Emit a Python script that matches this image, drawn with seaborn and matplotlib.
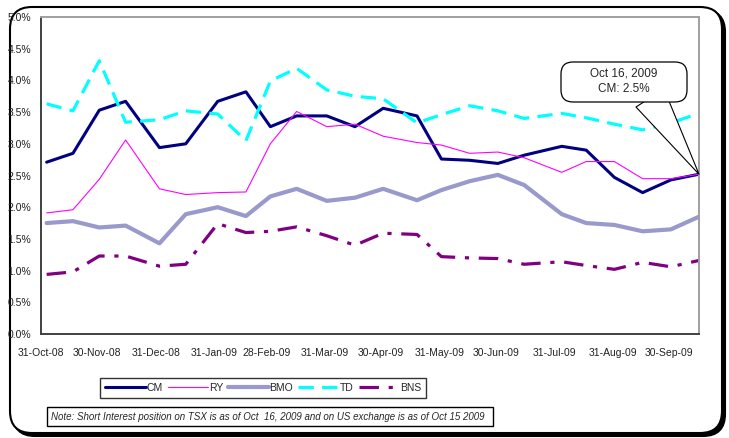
"""Short interest as % of float for the big Canadian banks, Oct-08 to Oct-09."""

import pandas as pd
import matplotlib
matplotlib.use("Agg")
import matplotlib.pyplot as plt
import matplotlib.dates as mdates
from matplotlib.patches import FancyBboxPatch, Rectangle
import seaborn as sns

# ---- data ----
dates = pd.to_datetime([
    "2008-11-03", "2008-11-17", "2008-12-01", "2008-12-15", "2009-01-02", "2009-01-16",
    "2009-02-02", "2009-02-17", "2009-03-02", "2009-03-16", "2009-04-01", "2009-04-16",
    "2009-05-01", "2009-05-19", "2009-06-01", "2009-06-16", "2009-07-01", "2009-07-15",
    "2009-08-04", "2009-08-17", "2009-09-01", "2009-09-16", "2009-10-01", "2009-10-16",
])
cm = [2.71, 2.85, 3.53, 3.67, 2.94, 3.00, 3.67, 3.82, 3.27, 3.44, 3.44, 3.27,
      3.56, 3.44, 2.76, 2.74, 2.69, 2.82, 2.96, 2.90, 2.47, 2.23, 2.43, 2.52]
ry = [1.91, 1.96, 2.44, 3.06, 2.29, 2.20, 2.23, 2.24, 3.00, 3.51, 3.27, 3.31,
      3.12, 3.02, 2.98, 2.85, 2.87, 2.78, 2.55, 2.72, 2.72, 2.45, 2.45, 2.52]
bmo = [1.75, 1.78, 1.68, 1.71, 1.43, 1.89, 2.00, 1.86, 2.17, 2.29, 2.10, 2.15,
       2.29, 2.11, 2.27, 2.41, 2.51, 2.35, 1.89, 1.75, 1.72, 1.62, 1.65, 1.85]
td = [3.63, 3.52, 4.31, 3.34, 3.38, 3.52, 3.47, 3.05, 3.99, 4.19, 3.85, 3.75,
      3.71, 3.33, 3.46, 3.60, 3.52, 3.40, 3.48, 3.41, 3.31, 3.22, 3.33, 3.48]
bns = [0.94, 0.98, 1.23, 1.23, 1.07, 1.10, 1.74, 1.60, 1.62, 1.69, 1.55, 1.40,
       1.59, 1.57, 1.22, 1.20, 1.19, 1.10, 1.14, 1.08, 1.02, 1.13, 1.06, 1.16]

tick_dates = pd.to_datetime([
    "2008-10-31", "2008-11-30", "2008-12-31", "2009-01-31", "2009-02-28", "2009-03-31",
    "2009-04-30", "2009-05-31", "2009-06-30", "2009-07-31", "2009-08-31", "2009-09-30",
])
y_ticks = [0.0, 0.5, 1.0, 1.5, 2.0, 2.5, 3.0, 3.5, 4.0, 4.5, 5.0]

callout = "Oct 16, 2009\nCM: 2.5%"
note = ("Note: Short Interest position on TSX is as of Oct  16, 2009 "
        "and on US exchange is as of Oct 15 2009")

sns.set_style("white")
plt.rcParams["font.family"] = ["Liberation Sans", "DejaVu Sans"]
plt.rcParams["lines.scale_dashes"] = False

fig = plt.figure(figsize=(7.29, 4.38), dpi=100)
ax = fig.add_axes([41 / 729, 1 - 334 / 438, 658 / 729, 317 / 438])

series = [
    ("CM", cm, "#000080", 2.2, "-"),
    ("RY", ry, "#FF00FF", 0.8, "-"),
    ("BMO", bmo, "#9999CC", 3.0, "-"),
    ("TD", td, "#00FFFF", 2.3, (0, (11, 6))),
    ("BNS", bns, "#800080", 2.3, (0, (14, 7, 3, 7))),
]
for name, vals, col, lw, ls in series:
    sns.lineplot(x=dates, y=vals, ax=ax, color=col, lw=lw, linestyle=ls,
                 label=name, legend=False)
if ax.get_legend() is not None:
    ax.get_legend().remove()

ax.set_xlim(pd.Timestamp("2008-10-31"), pd.Timestamp("2009-10-16"))
ax.set_ylim(0, 5)
ax.set_xlabel("")
ax.set_ylabel("")
ax.set_yticks(y_ticks)
ax.set_yticklabels([f"{v:.1f}%" for v in y_ticks])
ax.set_xticks(tick_dates)
ax.xaxis.set_major_formatter(mdates.DateFormatter("%d-%b-%y"))
ax.tick_params(axis="both", labelsize=7.5, colors="#222222", length=4,
               width=1, direction="out", pad=3)
ax.tick_params(axis="x", pad=6)
for side in ["left", "bottom"]:
    ax.spines[side].set_color("#404040")
    ax.spines[side].set_linewidth(1.4)
for side in ["top", "right"]:
    ax.spines[side].set_visible(True)
    ax.spines[side].set_color("#A0A0A0")
    ax.spines[side].set_linewidth(1.4)

# callout pointing at the last CM value: wedge first, then the box over it
ax.annotate("", xy=(dates[-1], cm[-1]),
            xytext=(650 / 729, 1 - 98 / 438), textcoords="figure fraction",
            arrowprops=dict(arrowstyle="wedge,tail_width=2.4,shrink_factor=0.5",
                            mutation_scale=10, shrinkA=0, shrinkB=0,
                            fc="white", ec="black", lw=0.8))
fig.add_artist(FancyBboxPatch((5.61, 3.36), 1.26, 0.40,
                              boxstyle="round,pad=0,rounding_size=0.12",
                              transform=fig.dpi_scale_trans, fc="white", ec="black",
                              lw=0.9, zorder=5))
fig.text(624 / 729, 1 - 81 / 438, callout, fontsize=8.5, ha="center", va="center",
         linespacing=1.35, zorder=6)

# legend below the plot
handles, labels = ax.get_legend_handles_labels()
fig.legend(handles, labels, loc="center", bbox_to_anchor=(263 / 729, 1 - 388 / 438),
           ncol=5, fontsize=7.5, frameon=True, fancybox=False, edgecolor="black",
           handlelength=3.9, handletextpad=0.05, columnspacing=0.5,
           borderpad=0.5, borderaxespad=0)

# note box
fig.add_artist(Rectangle((0.47, 0.12), 4.46, 0.19, transform=fig.dpi_scale_trans,
                         fc="white", ec="black", lw=1.0))
fig.text(0.51 / 7.29, 0.215 / 4.38, note, fontsize=7, style="italic",
         ha="left", va="center")

# rounded outer frame with a drop shadow
fig.add_artist(FancyBboxPatch((0.13, 0.02), 7.12, 4.26,
                              boxstyle="round,pad=0,rounding_size=0.22",
                              transform=fig.dpi_scale_trans, fc="black", ec="black",
                              lw=1.5, zorder=-2))
fig.add_artist(FancyBboxPatch((0.10, 0.05), 7.12, 4.26,
                              boxstyle="round,pad=0,rounding_size=0.22",
                              transform=fig.dpi_scale_trans, fc="white", ec="black",
                              lw=1.5, zorder=-1))

fig.savefig("out.png", dpi=100)
plt.close(fig)
